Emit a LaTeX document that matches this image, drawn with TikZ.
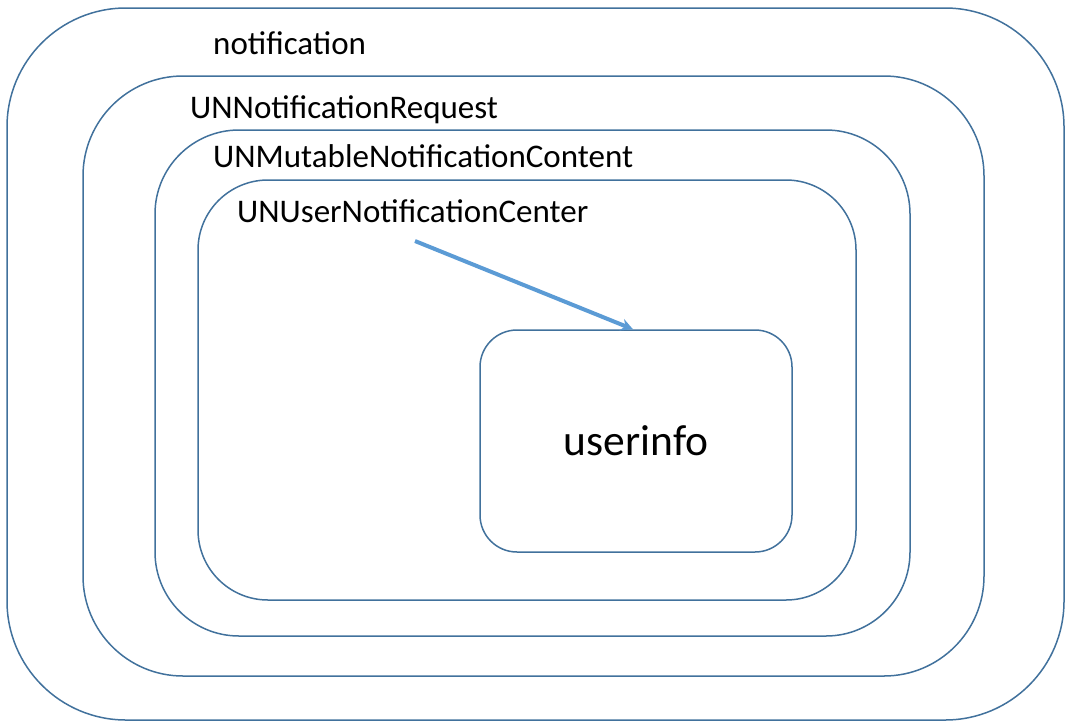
\documentclass[tikz,border=0pt]{standalone}
\usepackage{fontspec}
\setmainfont{Carlito}
\usetikzlibrary{arrows.meta}
\definecolor{boxline}{HTML}{41719C}
\definecolor{arrowblue}{HTML}{5B9BD5}
\begin{document}
\begin{tikzpicture}[x=1pt,y=-1pt,
    layer/.style={draw=boxline,line width=1.5pt,rectangle,inner sep=0pt},
    lbl/.style={anchor=base west,inner sep=0pt,font=\fontsize{33}{40}\selectfont}]
        \useasboundingbox (0,0) rectangle (1070,726);
        \node[layer,minimum width=1057pt,minimum height=712pt,rounded corners=119pt](notif)at(535.5,364) {};
        \node[layer,minimum width=901pt,minimum height=600pt,rounded corners=100pt](req)at(533.5,376) {};
        \node[layer,minimum width=755pt,minimum height=506pt,rounded corners=84pt](content)at(532.5,383) {};
        \node[layer,minimum width=658pt,minimum height=420pt,rounded corners=70pt](center)at(527,390) {};
        \node[layer,minimum width=312pt,minimum height=222pt,rounded corners=37pt,
              font=\fontsize{43.5}{50}\selectfont](info)at(636,441) {userinfo};

        \node[lbl](notiftext)at(213,54) {notification};
        \node[lbl](reqtext)at(190,118) {UNNotificationRequest};
        \node[lbl](contenttext)at(213,167) {UNMutableNotificationContent};
        \node[lbl](centertext)at(237,222) {UNUserNotificationCenter};

        \coordinate (from) at (415,241);
        \draw[arrowblue,line width=4pt,-{Stealth[length=12pt,width=12pt]}](from) -- ([xshift=-3pt]info.north);
    \end{tikzpicture}
\end{document}
